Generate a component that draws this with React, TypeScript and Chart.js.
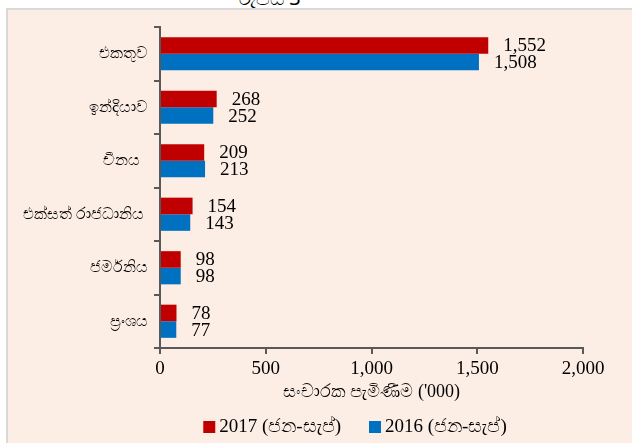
import React, { useEffect, useRef } from "react";
import { Chart, registerables } from "chart.js";

Chart.register(...registerables);

const categories = ["එකතුව", "ඉන්දියාව", "චීනය  ", "එක්සත් රාජධානිය ", "ජර්මනිය", "ප්‍රංශය"];
const values2017 = [1552, 268, 209, 154, 98, 78];
const values2016 = [1508, 252, 213, 143, 98, 77];
const seriesNames = ["2017 (ජන-සැප්)", "2016 (ජන-සැප්)"];
const xMin = 0;
const xMax = 2000;
const xStep = 500;
const xAxisTitle = "සංචාරක පැමිණීම ('000)";
const topTitle = "රූපය 3";

const RED = "#C00000";
const BLUE = "#0070C0";
const AXIS = "#595959";
const SERIF = "'Liberation Serif', 'DejaVu Serif', serif";
const SANS = "'Noto Sans', 'DejaVu Sans', sans-serif";

const valueLabelPlugin = {
  id: "valueLabels",
  afterDatasetsDraw(chart: any) {
    const ctx = chart.ctx;
    ctx.save();
    ctx.font = `19px ${SERIF}`;
    ctx.fillStyle = "#000";
    ctx.textAlign = "left";
    ctx.textBaseline = "middle";
    chart.data.datasets.forEach((ds: any, di: number) => {
      const meta = chart.getDatasetMeta(di);
      meta.data.forEach((el: any, i: number) => {
        const v = ds.data[i] as number;
        ctx.fillText(v.toLocaleString("en-US"), el.x + 15, el.y + 1);
      });
    });
    ctx.restore();
  },
};

// Legend drawn below the axis title, centred like the reference
const legendPlugin = {
  id: "bottomLegend",
  afterDraw(chart: any) {
    const ctx = chart.ctx;
    const ds = chart.data.datasets;
    const box = 12;
    const gapText = 4;
    const gapItem = 28;
    ctx.save();
    ctx.font = `19px ${SERIF}`;
    const widths = ds.map((d: any) => box + gapText + ctx.measureText(d.label).width);
    const total = widths.reduce((a: number, b: number) => a + b, 0) + gapItem * (ds.length - 1);
    const centerX = 355;
    const cy = 427;
    let x = centerX - total / 2;
    ds.forEach((d: any, i: number) => {
      ctx.fillStyle = d.backgroundColor;
      ctx.fillRect(x, cy - box / 2, box, box);
      ctx.fillStyle = "#000";
      ctx.textAlign = "left";
      ctx.textBaseline = "middle";
      ctx.fillText(d.label, x + box + gapText, cy);
      x += widths[i] + gapItem;
    });
    ctx.restore();
  },
};

export default function App() {
  const ref = useRef<HTMLCanvasElement | null>(null);

  useEffect(() => {
    if (!ref.current) return;
    const chart = new Chart(ref.current, {
      type: "bar",
      data: {
        labels: categories,
        datasets: [
          {
            label: seriesNames[0],
            data: values2017,
            backgroundColor: RED,
            borderWidth: 0,
            categoryPercentage: 0.62,
            barPercentage: 1,
          },
          {
            label: seriesNames[1],
            data: values2016,
            backgroundColor: BLUE,
            borderWidth: 0,
            categoryPercentage: 0.62,
            barPercentage: 1,
          },
        ],
      },
      options: {
        indexAxis: "y",
        responsive: false,
        animation: false,
        devicePixelRatio: 1,
        layout: { padding: { top: 27, right: 49, left: 0, bottom: 38 } },
        plugins: {
          legend: { display: false },
          tooltip: { enabled: false },
          title: { display: false },
        },
        scales: {
          x: {
            type: "linear",
            min: xMin,
            max: xMax,
            ticks: {
              stepSize: xStep,
              color: "#000",
              padding: 4,
              font: { size: 19, family: SERIF },
              callback: (v: any) => Number(v).toLocaleString("en-US"),
            },
            grid: {
              display: true,
              drawOnChartArea: false,
              drawTicks: true,
              tickLength: 6,
              color: AXIS,
              lineWidth: 2,
            },
            border: { display: true, color: AXIS, width: 2 },
            title: {
              display: true,
              text: xAxisTitle,
              color: "#000",
              font: { size: 18, family: SERIF },
              padding: { top: 0, bottom: 2 },
            },
            afterFit: (s: any) => {
              s.height = 57;
            },
          },
          y: {
            type: "category",
            ticks: {
              color: "#000",
              padding: 6,
              font: { size: 16, family: SANS },
            },
            grid: {
              display: true,
              offset: true,
              drawOnChartArea: false,
              drawTicks: true,
              tickLength: 6,
              color: AXIS,
              lineWidth: 2,
            },
            border: { display: true, color: AXIS, width: 2 },
            afterFit: (s: any) => {
              s.width = 160;
            },
          },
        },
      },
      plugins: [valueLabelPlugin, legendPlugin],
    } as any);
    return () => chart.destroy();
  }, []);

  return (
    <div
      style={{
        position: "fixed",
        left: 0,
        top: 0,
        width: 632,
        height: 443,
        background: "#fff",
        overflow: "hidden",
      }}
    >
      <div
        style={{
          position: "absolute",
          left: 220,
          top: -16,
          width: 100,
          textAlign: "center",
          fontFamily: SANS,
          fontSize: 20,
          color: "#000",
        }}
      >
        {topTitle}
      </div>
      <div
        style={{
          position: "absolute",
          left: 6,
          top: 8,
          width: 626,
          height: 435,
          background: "#FCEDE5",
          borderLeft: "2px solid #D9D9D9",
          borderTop: "2px solid #D9D9D9",
          boxSizing: "border-box",
        }}
      />
      <canvas
        ref={ref}
        width={632}
        height={443}
        style={{ position: "absolute", left: 0, top: 0, width: 632, height: 443 }}
      />
    </div>
  );
}
